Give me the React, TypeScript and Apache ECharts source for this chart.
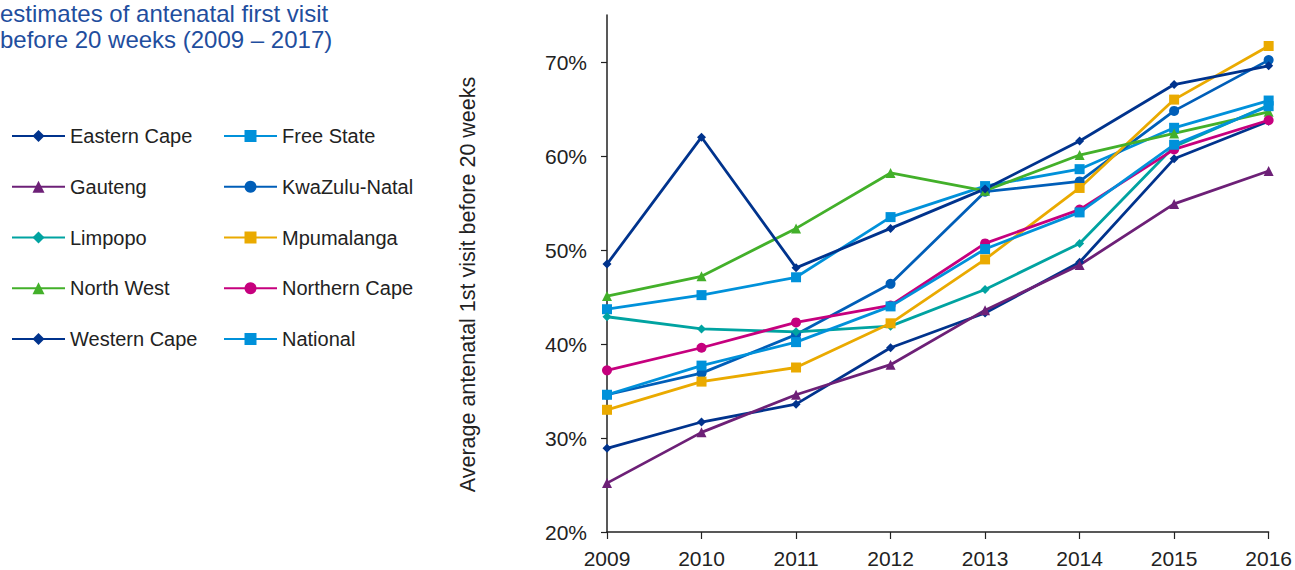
import React, { useEffect, useRef } from "react";
import * as echarts from "echarts";

const years = ["2009", "2010", "2011", "2012", "2013", "2014", "2015", "2016"];

const westernCape = [48.5, 62.0, 48.1, 52.3, 56.5, 61.6, 67.6, 69.6];
const freeState = [43.7, 45.2, 47.1, 53.5, 56.8, 58.6, 63.0, 65.9];
const gauteng = [25.2, 30.6, 34.6, 37.8, 43.6, 48.4, 54.9, 58.4];
const kwazuluNatal = [34.6, 36.9, 41.0, 46.4, 56.2, 57.3, 64.8, 70.2];
const limpopo = [42.9, 41.6, 41.3, 41.9, 45.8, 50.7, 61.0, 65.4];
const mpumalanga = [33.0, 36.0, 37.5, 42.2, 49.0, 56.6, 66.0, 71.7];
const northWest = [45.1, 47.2, 52.3, 58.2, 56.3, 60.1, 62.4, 64.7];
const northernCape = [37.2, 39.6, 42.3, 44.1, 50.7, 54.3, 60.7, 63.8];
const easternCape = [28.9, 31.7, 33.6, 39.6, 43.3, 48.7, 59.7, 63.7];
const national = [34.6, 37.7, 40.2, 44.0, 50.1, 54.0, 61.2, 65.3];

const yTicks = [20, 30, 40, 50, 60, 70];

const seriesDefs = [
  { name: "Eastern Cape", data: easternCape, color: "#00338D", symbol: "diamond", size: 9 },
  { name: "Free State", data: freeState, color: "#0091DA", symbol: "rect", size: 10 },
  { name: "Gauteng", data: gauteng, color: "#6D2077", symbol: "triangle", size: 10 },
  { name: "KwaZulu-Natal", data: kwazuluNatal, color: "#005EB8", symbol: "circle", size: 10 },
  { name: "Limpopo", data: limpopo, color: "#00A3A1", symbol: "diamond", size: 9 },
  { name: "Mpumalanga", data: mpumalanga, color: "#EAAA00", symbol: "rect", size: 10 },
  { name: "North West", data: northWest, color: "#43B02A", symbol: "triangle", size: 10 },
  { name: "Northern Cape", data: northernCape, color: "#C6007E", symbol: "circle", size: 10 },
  { name: "Western Cape", data: westernCape, color: "#00338D", symbol: "diamond", size: 9 },
  { name: "National", data: national, color: "#0091DA", symbol: "rect", size: 10 },
];

const FONT = "Liberation Sans";

export default function App() {
  const ref = useRef<HTMLDivElement>(null);
  useEffect(() => {
    if (!ref.current) return;
    const chart = echarts.init(ref.current, null, { renderer: "svg" });
    const legendBase = {
      orient: "vertical" as const,
      itemWidth: 53,
      itemHeight: 15,
      itemGap: 30.75,
      padding: 0,
      textStyle: { fontFamily: FONT, fontSize: 20, color: "#222" },
      selectedMode: false,
    };
    chart.setOption({
      animation: false,
      textStyle: { fontFamily: FONT },
      graphic: [
        {
          type: "text",
          left: 0,
          top: 0,
          style: {
            text: "estimates of antenatal first visit\nbefore 20 weeks (2009 – 2017)",
            fontFamily: FONT,
            fontSize: 24,
            lineHeight: 26.5,
            fill: "#1F4E9E",
          },
        },
        {
          type: "text",
          x: 468,
          y: 284.5,
          rotation: Math.PI / 2,
          style: {
            text: "Average antenatal 1st visit before 20 weeks",
            fontFamily: FONT,
            fontSize: 21.5,
            fill: "#222",
            align: "center",
            verticalAlign: "middle",
          },
        },
      ],
      legend: [
        {
          ...legendBase,
          left: 11,
          top: 126,
          data: ["Eastern Cape", "Gauteng", "Limpopo", "North West", "Western Cape"],
        },
        {
          ...legendBase,
          left: 223,
          top: 126,
          data: ["Free State", "KwaZulu-Natal", "Mpumalanga", "Northern Cape", "National"],
        },
      ],
      grid: { left: 607, right: 24, top: 15, bottom: 38, containLabel: false },
      xAxis: {
        type: "category",
        data: years,
        boundaryGap: false,
        axisLine: { lineStyle: { color: "#222", width: 1.5 } },
        axisTick: { alignWithLabel: true, length: 7, lineStyle: { color: "#222", width: 1.2 } },
        axisLabel: { fontFamily: FONT, fontSize: 21, color: "#222", margin: 16, showMaxLabel: true },
        splitLine: { show: false },
      },
      yAxis: {
        type: "value",
        min: 20,
        max: 75,
        interval: 10,
        axisLine: { show: true, lineStyle: { color: "#222", width: 1.5 } },
        axisTick: { show: true, length: 6, customValues: yTicks, lineStyle: { color: "#222", width: 1.2 } },
        axisLabel: {
          fontFamily: FONT,
          fontSize: 21,
          color: "#222",
          margin: 20,
          customValues: yTicks,
          formatter: (v: number) => `${v}%`,
        },
        splitLine: { show: false },
      },
      series: seriesDefs.map((s) => ({
        name: s.name,
        type: "line",
        data: s.data,
        symbol: s.symbol,
        symbolSize: s.size,
        showSymbol: true,
        clip: false,
        lineStyle: { color: s.color, width: 2.8 },
        itemStyle: { color: s.color },
        emphasis: { disabled: true },
      })),
    });
    return () => chart.dispose();
  }, []);
  return (
    <div
      ref={ref}
      style={{ position: "fixed", left: 0, top: 0, width: 1295, height: 570, background: "#fff" }}
    />
  );
}
